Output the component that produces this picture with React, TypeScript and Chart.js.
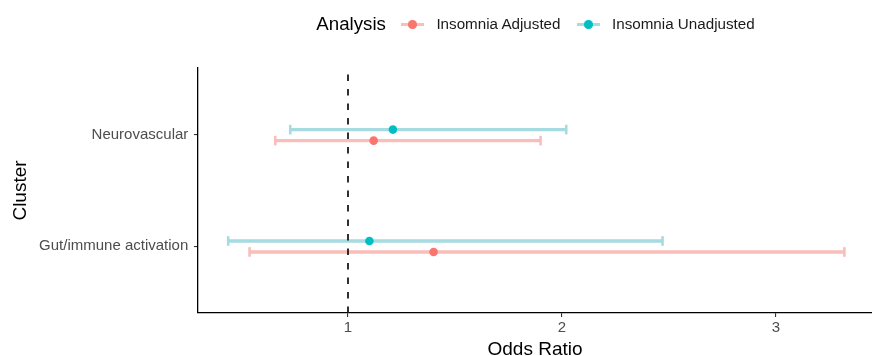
import React, { useEffect, useRef } from "react";
import { Chart, registerables } from "chart.js";

Chart.register(...registerables);

// ---- data ----
const categories = ["Gut/immune activation", "Neurovascular"];
const seriesNames = ["Insomnia Adjusted", "Insomnia Unadjusted"];
const adjustedOR = [1.4, 1.12];
const adjustedLower = [0.54, 0.66];
const adjustedUpper = [3.32, 1.9];
const unadjustedOR = [1.1, 1.21];
const unadjustedLower = [0.44, 0.73];
const unadjustedUpper = [2.47, 2.02];
const xTickValues = [1, 2, 3];
const referenceOR = 1;

// ---- style ----
const FONT = "'Liberation Sans', Arial, Helvetica, sans-serif";
const SOLID = ["#F8766D", "#00BFC4"];
const LIGHT = ["#F9BDBA", "#A5DBE1"];
const DODGE = [-0.052, 0.047];
const W = 872;
const H = 356;

export default function App() {
  const ref = useRef<HTMLCanvasElement | null>(null);

  useEffect(() => {
    document.body.style.margin = "0";
    const canvas = ref.current;
    if (!canvas) return;

    const series = [
      { or: adjustedOR, lo: adjustedLower, hi: adjustedUpper },
      { or: unadjustedOR, lo: unadjustedLower, hi: unadjustedUpper },
    ];

    const datasets: any[] = [];
    series.forEach((s, si) => {
      datasets.push({
        type: "scatter",
        label: seriesNames[si],
        data: categories.map((_, ci) => ({ x: s.or[ci], y: ci + 1 + DODGE[si] })),
        backgroundColor: SOLID[si],
        borderWidth: 0,
        pointRadius: 4.3,
        order: 0,
      });
    });
    datasets.push({
      type: "line",
      label: "ref",
      data: [
        { x: referenceOR, y: 0.4 },
        { x: referenceOR, y: 2.6 },
      ],
      borderColor: "#1a1a1a",
      borderWidth: 1.8,
      borderDash: [6.5, 8],
      pointRadius: 0,
      order: 1,
    });
    series.forEach((s, si) => {
      categories.forEach((_, ci) => {
        const y = ci + 1 + DODGE[si];
        datasets.push({
          type: "line",
          label: seriesNames[si] + " CI " + ci,
          data: [
            { x: s.lo[ci], y },
            { x: s.hi[ci], y },
          ],
          borderColor: LIGHT[si],
          borderWidth: 3.4,
          pointStyle: "line",
          pointRotation: 90,
          pointRadius: 4.8,
          pointBorderWidth: 2.6,
          pointBorderColor: LIGHT[si],
          pointBackgroundColor: LIGHT[si],
          order: 2,
        });
      });
    });

    const chart = new Chart(canvas, {
      type: "scatter",
      data: { datasets },
      options: {
        animation: false,
        responsive: false,
        maintainAspectRatio: false,
        devicePixelRatio: 1,
        events: [],
        layout: { autoPadding: false, padding: { top: 68, right: 0, left: 0, bottom: 0 } },
        plugins: { legend: { display: false }, tooltip: { enabled: false } },
        scales: {
          x: {
            type: "linear",
            min: 0.299,
            max: 3.449,
            afterBuildTicks: (scale: any) => {
              scale.ticks = xTickValues.map((v) => ({ value: v }));
            },
            afterFit: (scale: any) => {
              scale.height = 43;
              scale.paddingLeft = 0;
              scale.paddingRight = 0;
            },
            grid: {
              display: true,
              drawOnChartArea: false,
              drawTicks: true,
              tickLength: 4,
              color: "#333333",
              lineWidth: 1.1,
            },
            border: { display: true, color: "#000000", width: 1.3 },
            ticks: {
              padding: 1.8,
              color: "#4D4D4D",
              font: { family: FONT, size: 15 },
              callback: (v: any) => String(v),
            },
            title: {
              display: true,
              text: "Odds Ratio",
              color: "#000000",
              font: { family: FONT, size: 19, lineHeight: 0.68 },
              padding: { top: 0, bottom: 0 },
            },
          },
          y: {
            type: "linear",
            min: 0.4,
            max: 2.6,
            afterBuildTicks: (scale: any) => {
              scale.ticks = categories.map((_, i) => ({ value: i + 1 }));
            },
            afterFit: (scale: any) => {
              scale.width = 198;
              scale.paddingTop = 0;
              scale.paddingBottom = 0;
            },
            grid: {
              display: true,
              drawOnChartArea: false,
              drawTicks: true,
              tickLength: 4,
              color: "#333333",
              lineWidth: 1.1,
            },
            border: { display: true, color: "#000000", width: 1.3 },
            ticks: {
              padding: 5.7,
              color: "#4D4D4D",
              font: { family: FONT, size: 15 },
              callback: (v: any) => categories[Math.round(Number(v)) - 1] ?? "",
            },
            title: {
              display: true,
              text: "Cluster",
              color: "#000000",
              font: { family: FONT, size: 19 },
              padding: { top: 9.3, bottom: 0 },
            },
          },
        },
      },
    });

    return () => chart.destroy();
  }, []);

  const legendText: React.CSSProperties = {
    position: "absolute",
    top: 0,
    height: 30,
    lineHeight: "30px",
    fontFamily: FONT,
    whiteSpace: "nowrap",
    color: "#1a1a1a",
  };

  const symbol = (left: number, si: number) => (
    <>
      <div
        style={{
          position: "absolute",
          left,
          top: 15 - 1.7,
          width: 23.6,
          height: 3.4,
          background: LIGHT[si],
        }}
      />
      <div
        style={{
          position: "absolute",
          left: left + 11.8 - 4.3,
          top: 15 - 4.3,
          width: 8.6,
          height: 8.6,
          borderRadius: "50%",
          background: SOLID[si],
        }}
      />
    </>
  );

  return (
    <div style={{ position: "relative", width: W, height: H, overflow: "hidden" }}>
      <canvas ref={ref} width={W} height={H} style={{ display: "block", width: W, height: H }} />
      <div style={{ position: "absolute", left: 0, top: 9.3, width: W, height: 30 }}>
        <span style={{ ...legendText, left: 316.3, fontSize: 18.7, color: "#000" }}>Analysis</span>
        {symbol(400.7, 0)}
        <span style={{ ...legendText, left: 436.4, fontSize: 15.2 }}>{seriesNames[0]}</span>
        {symbol(576.7, 1)}
        <span style={{ ...legendText, left: 612, fontSize: 15.2 }}>{seriesNames[1]}</span>
      </div>
    </div>
  );
}
